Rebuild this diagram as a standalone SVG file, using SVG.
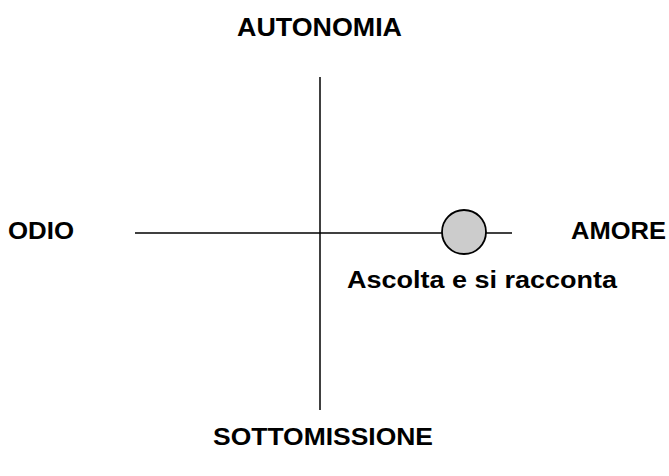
<svg xmlns="http://www.w3.org/2000/svg" width="669" height="476" viewBox="0 0 669 476">
<style>
.lbl{font-family:"Liberation Sans",Arial,sans-serif;font-weight:bold;font-size:23px;fill:#000}
.big{font-size:26px}
.ax{stroke:#000;stroke-width:1.5;fill:none}
</style>
<rect width="669" height="476" fill="#fff"/>
<g id="connectors">
<line class="ax" x1="320" y1="77" x2="320" y2="410"/>
<line class="ax" x1="135" y1="233" x2="512" y2="233"/>
</g>
<g id="autonomia"><text class="lbl big" x="319.5" y="36" text-anchor="middle" textLength="165" lengthAdjust="spacingAndGlyphs">AUTONOMIA</text></g>
<g id="sottomissione"><text class="lbl" x="323" y="445" text-anchor="middle" textLength="220" lengthAdjust="spacingAndGlyphs">SOTTOMISSIONE</text></g>
<g id="odio"><text class="lbl" x="8" y="239" textLength="66" lengthAdjust="spacingAndGlyphs">ODIO</text></g>
<g id="amore"><text class="lbl" x="571" y="239" textLength="95" lengthAdjust="spacingAndGlyphs">AMORE</text></g>
<g id="punto"><circle cx="464" cy="232" r="22" fill="#ccc" stroke="#000" stroke-width="1.8"/></g>
<g id="ascolta"><text class="lbl" x="347" y="288" textLength="270" lengthAdjust="spacingAndGlyphs">Ascolta e si racconta</text></g>
</svg>
